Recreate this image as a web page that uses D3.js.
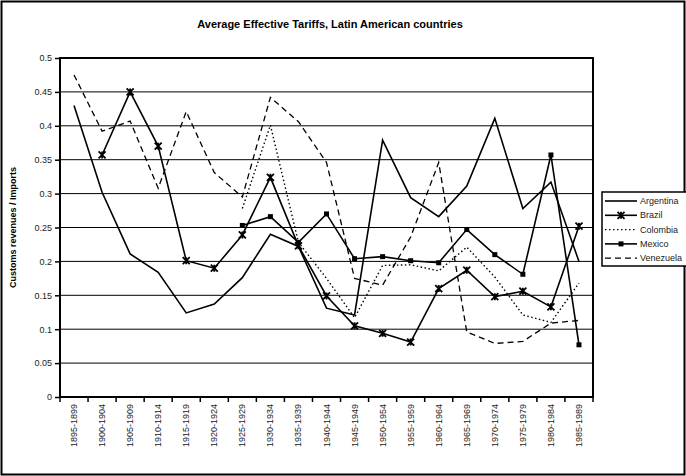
<!DOCTYPE html>
<html><head><meta charset="utf-8">
<script src="https://cdn.jsdelivr.net/npm/d3@7"></script>
<style>body{margin:0;background:#fff}svg{display:block;font-family:"Liberation Sans",Arial,sans-serif}</style>
</head><body><svg id="c" width="686" height="476"></svg>
<script>
const categories = ["1895-1899","1900-1904","1905-1909","1910-1914","1915-1919","1920-1924","1925-1929","1930-1934","1935-1939","1940-1944","1945-1949","1950-1954","1955-1959","1960-1964","1965-1969","1970-1974","1975-1979","1980-1984","1985-1989"];
const argentina = [0.43,0.302,0.211,0.184,0.124,0.137,0.176,0.240,0.222,0.131,0.121,0.379,0.294,0.266,0.311,0.411,0.278,0.317,0.200];
const brazil    = [null,0.357,0.450,0.370,0.201,0.190,0.239,0.324,0.223,0.149,0.105,0.094,0.081,0.160,0.187,0.148,0.156,0.133,0.252];
const colombia  = [null,null,null,null,null,null,0.278,0.401,0.228,0.175,0.117,0.194,0.195,0.186,0.221,0.177,0.121,0.110,0.168];
const mexico    = [null,null,null,null,null,null,0.253,0.266,0.228,0.270,0.204,0.207,0.201,0.198,0.247,0.210,0.181,0.357,0.077];
const venezuela = [0.475,0.392,0.407,0.308,0.421,0.331,0.295,0.442,0.406,0.346,0.175,0.165,0.236,0.346,0.096,0.079,0.082,0.109,0.113];
const yTicks = [0,0.05,0.1,0.15,0.2,0.25,0.3,0.35,0.4,0.45,0.5];
const seriesNames = ["Argentina","Brazil","Colombia","Mexico","Venezuela"];

const svg = d3.select("#c");
svg.append("rect").attr("x",1.5).attr("y",1.5).attr("width",683).attr("height",473)
  .attr("fill","#fff").attr("stroke","#000").attr("stroke-width",2);

const L=60,R=593,T=58,B=397;
const x = d3.scaleBand().domain(categories).range([L,R]).paddingInner(0).paddingOuter(0);
const y = d3.scaleLinear().domain([0,0.5]).range([B,T]);

svg.append("g").selectAll("line").data(yTicks.slice(1,-1)).join("line")
  .attr("x1",L).attr("x2",R).attr("y1",d=>y(d)).attr("y2",d=>y(d))
  .attr("stroke","#000").attr("stroke-width",1);

const ya = svg.append("g").attr("transform",`translate(${L},0)`)
  .call(d3.axisLeft(y).tickValues(yTicks).tickFormat(d=>String(+d.toFixed(2))).tickSize(5).tickPadding(3));
ya.attr("font-family",null);
ya.select(".domain").remove();
ya.selectAll("line").attr("stroke","#000").attr("stroke-width",1.5);
ya.selectAll("text").attr("font-size",9).attr("fill","#222");

const xa = svg.append("g").attr("transform",`translate(0,${B})`);
const bounds = categories.map(c=>x(c)).concat([R]);
xa.selectAll("line").data(bounds).join("line")
  .attr("x1",d=>d).attr("x2",d=>d).attr("y1",0).attr("y2",5)
  .attr("stroke","#000").attr("stroke-width",1.5);
xa.selectAll("text").data(categories).join("text")
  .attr("transform",d=>`translate(${x(d)+x.bandwidth()/2+3},7) rotate(-90)`)
  .attr("text-anchor","end").attr("font-size",9).attr("fill","#222").text(d=>d);

svg.append("rect").attr("x",L).attr("y",T).attr("width",R-L).attr("height",B-T)
  .attr("fill","none").attr("stroke","#000").attr("stroke-width",2);

const cx = i => x(categories[i]) + x.bandwidth()/2;
const line = d3.line().defined(d=>d!=null).x((d,i)=>cx(i)).y(d=>y(d));
const styles = {
  Argentina:{data:argentina,w:1.6,dash:null},
  Brazil:{data:brazil,w:1.6,dash:null},
  Colombia:{data:colombia,w:1.4,dash:"1.5,2.5"},
  Mexico:{data:mexico,w:1.6,dash:null},
  Venezuela:{data:venezuela,w:1.3,dash:"6,4"}
};
const g = svg.append("g");
seriesNames.forEach(n=>{
  const s=styles[n];
  g.append("path").datum(s.data).attr("d",line).attr("fill","none").attr("stroke","#000")
   .attr("stroke-width",s.w).attr("stroke-dasharray",s.dash).attr("stroke-linejoin","miter");
});
function star(sel,px,py){
  const r=3.5;
  sel.append("path").attr("d",`M${px-r},${py-r}L${px+r},${py+r}M${px-r},${py+r}L${px+r},${py-r}M${px},${py-r}L${px},${py+r}`)
    .attr("stroke","#000").attr("stroke-width",1.8).attr("fill","none");
}
brazil.forEach((v,i)=>{ if(v!=null) star(g,cx(i),y(v)); });
mexico.forEach((v,i)=>{ if(v!=null) g.append("rect").attr("x",cx(i)-2.5).attr("y",y(v)-2.5).attr("width",5).attr("height",5).attr("fill","#000"); });

svg.append("text").attr("x",330).attr("y",28).attr("text-anchor","middle")
  .attr("font-size",11).attr("font-weight","bold").text("Average Effective Tariffs, Latin American countries");
svg.append("text").attr("transform",`translate(16,${(T+B)/2}) rotate(-90)`).attr("text-anchor","middle")
  .attr("font-size",9).attr("font-weight","bold").text("Customs revenues / Imports");

const lg = svg.append("g");
lg.append("rect").attr("x",602).attr("y",192).attr("width",90).attr("height",74).attr("fill","#fff").attr("stroke","#000").attr("stroke-width",1.5);
seriesNames.forEach((n,i)=>{
  const ly=201+i*14.3, s=styles[n];
  lg.append("line").attr("x1",605).attr("x2",637).attr("y1",ly).attr("y2",ly).attr("stroke","#000")
    .attr("stroke-width",s.w).attr("stroke-dasharray",s.dash);
  if(n==="Brazil") star(lg,621,ly);
  if(n==="Mexico") lg.append("rect").attr("x",618.5).attr("y",ly-2.5).attr("width",5).attr("height",5).attr("fill","#000");
  lg.append("text").attr("x",640).attr("y",ly+3).attr("font-size",9).attr("fill","#222").text(n);
});
</script></body></html>
